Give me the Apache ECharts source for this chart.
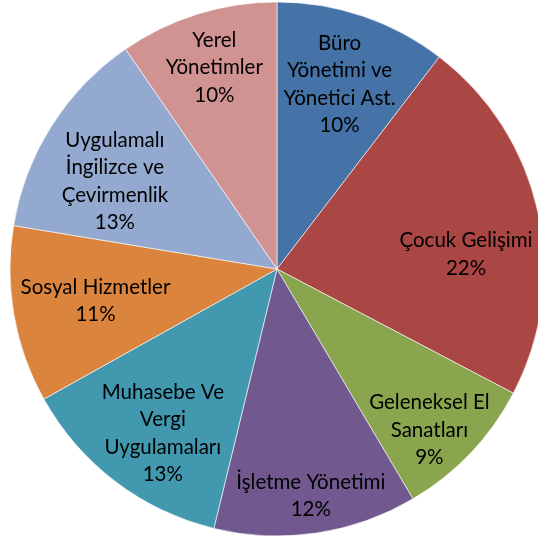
<!DOCTYPE html>
<html>
<head>
<meta charset="utf-8" />
<title></title>
<script src="https://cdn.jsdelivr.net/npm/echarts@6/dist/echarts.min.js"></script>
<style>
html, body { margin: 0; padding: 0; background: #fff; }
#chart { width: 538px; height: 539px; }
</style>
</head>
<body>
<div id="chart"></div>
<script type="text/javascript">
	// bölümler (etiketler satır kırılımlarıyla)
	var categories = [ 'Büro\nYönetimi ve\nYönetici Ast.', 'Çocuk Gelişimi',
			'Geleneksel El\nSanatları', 'İşletme Yönetimi',
			'Muhasebe Ve\nVergi\nUygulamaları', 'Sosyal Hizmetler',
			'Uygulamalı\nİngilizce ve\nÇevirmenlik', 'Yerel\nYönetimler' ];
	// yüzde payları
	var values = [ 10.4, 22.3, 8.8, 12.3, 13.1, 10.7, 12.8, 9.6 ];
	var colors = [ '#4572A7', '#AA4643', '#89A54E', '#71588F', '#4198AF',
			'#DB843D', '#93A9CF', '#D19392' ];
	// etiketin yarıçap oranı ve açı kayması (excel "best fit" gibi)
	var labelRatio = [ 0.73, 0.71, 0.83, 0.86, 0.75, 0.69, 0.69, 0.79 ];
	var labelShift = [ 0, 8, 3, 0, -2.5, 0, -4, 0 ];

	var cx = 277, cy = 269, R = 267;
	var total = values.reduce(function(a, b) { return a + b; }, 0);

	var myChart = echarts.init(document.getElementById('chart'));
	myChart.setOption({
		animation : false,
		series : [ {
			type : 'pie',
			center : [ cx, cy ],
			radius : R,
			startAngle : 90,
			clockwise : true,
			label : {
				show : true,
				position : 'inside',
				fontFamily : 'Lato',
				fontSize : 20.5,
				lineHeight : 27.5,
				color : '#000',
				align : 'center',
				formatter : function(p) {
					return p.name + '\n' + Math.round(p.percent) + '%';
				}
			},
			labelLine : { show : false },
			labelLayout : function(p) {
				var i = p.dataIndex, before = 0;
				for (var j = 0; j < i; j++) before += values[j];
				var mid = (before + values[i] / 2) / total * Math.PI * 2
						+ labelShift[i] * Math.PI / 180;
				var k = labelRatio[i];
				return {
					x : cx + R * k * Math.sin(mid),
					y : cy - R * k * Math.cos(mid),
					align : 'center',
					verticalAlign : 'middle'
				};
			},
			itemStyle : { borderColor : '#fff', borderWidth : 0.6 },
			data : categories.map(function(c, i) {
				return { name : c, value : values[i], itemStyle : { color : colors[i] } };
			})
		} ]
	});
</script>
</body>
</html>
